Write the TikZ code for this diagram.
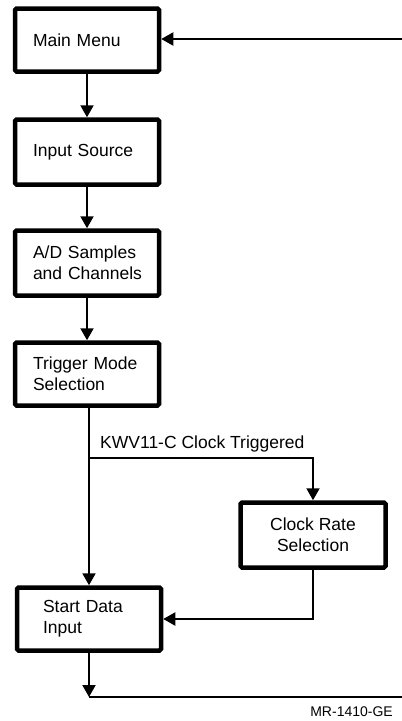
\documentclass[tikz,border=0pt]{standalone}
\usepackage{fontspec}
\setmainfont{Liberation Sans}
\usetikzlibrary{arrows.meta}
\begin{document}
\begin{tikzpicture}[x=1pt,y=-1pt,
  box/.style={draw, line width=4.5pt, rounded corners=1.5pt, minimum width=144pt, minimum height=63pt,
    font=\fontsize{17.5}{21}\selectfont, inner sep=0pt},
  leftbox/.style={box, align=left, text width=108pt},
  conn/.style={line width=2pt},
  arr/.style={conn, -{Triangle[length=12pt,width=13pt]}},
  lbl/.style={font=\fontsize{17.5}{21}\selectfont, inner sep=0pt}]
\useasboundingbox (0,0) rectangle (402,721);
\node[leftbox] (mm) at (87,40) {Main Menu};
\node[leftbox, minimum height=65pt] (is) at (87,152) {Input Source};
\node[leftbox, minimum height=65pt] (ad) at (87,263) {A/D Samples\\\mbox{and Channels}};
\node[leftbox] (tm) at (87,374) {Trigger Mode\\Selection};
\node[box, align=center, minimum width=145pt, minimum height=65pt] (cr) at (313,535) {Clock Rate\\Selection};
\node[box, align=left, text width=92pt] (sd) at (89,619) {Start Data\\Input};
\node[lbl, anchor=base west] (kw) at (100,448) {KWV11-C Clock Triggered};
\node[inner sep=0pt, anchor=east, font=\fontsize{14}{16}\selectfont] (mr) at (393,712) {MR-1410-GE};
\coordinate (tr) at (402,39);
\coordinate (br) at (89,458);
\coordinate (bt) at (89,697);
\coordinate (be) at (402,697);
\draw[arr] (mm) -- (is);
\draw[arr] (is) -- (ad);
\draw[arr] (ad) -- (tm);
\draw[arr] (tm.south -| sd) -- (sd.north);
\draw[arr] (br) -| (cr.north);
\draw[arr] (cr.south) |- (sd.east);
\draw[arr] (sd.south) -- (bt);
\draw[conn] (bt) -- (be);
\draw[arr] (tr) -- (tr -| mm.east);
\end{tikzpicture}
\end{document}
